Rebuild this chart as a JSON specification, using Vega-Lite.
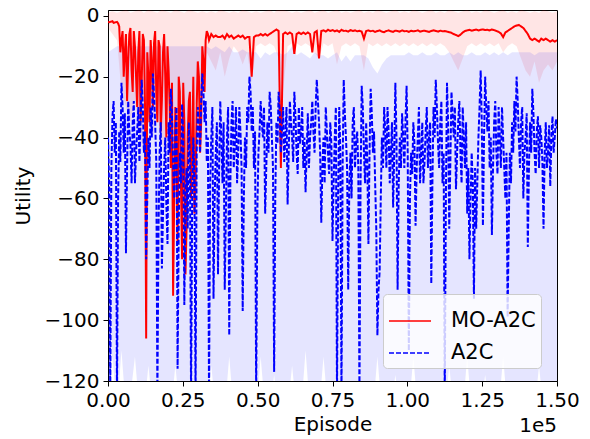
{
"$schema":"https://vega.github.io/schema/vega-lite/v6.json",
"width":449,"height":371,
"autosize":"none",
"padding":{"left":108,"top":10,"right":33,"bottom":58},
"background":"white",
"config":{
 "view":{"stroke":"black","strokeWidth":1},
 "font":"DejaVu Sans",
 "axis":{"grid":false,"domainColor":"black","tickColor":"black","labelColor":"black","titleColor":"black","labelFont":"DejaVu Sans","titleFont":"DejaVu Sans","labelFontSize":20,"titleFontSize":20,"titleFontWeight":"normal","tickSize":5,"labelFlush":false,"labelOverlap":false},
 "legend":{"orient":"none","legendX":275,"legendY":284,"padding":5,"fillColor":"rgba(255,255,255,0.8)","strokeColor":"#cccccc","cornerRadius":4,"labelFontSize":21,"labelFont":"DejaVu Sans","labelColor":"black","symbolType":"stroke","symbolSize":1764,"symbolStrokeWidth":1.5,"labelOffset":19,"rowPadding":-2}
},
"datasets":{
"a2c":[
{"e":0,"v":-40},{"e":375,"v":-55},{"e":750,"v":-125},{"e":1125,"v":-50},{"e":1500,"v":-33},{"e":1875,"v":-28},{"e":2250,"v":-45},{"e":2625,"v":-35},{"e":3000,"v":-125},{"e":3375,"v":-60},{"e":3750,"v":-38},{"e":4125,"v":-48},{"e":4500,"v":-22},{"e":4875,"v":-30},{"e":5250,"v":-45},{"e":5625,"v":-32},{"e":6000,"v":-78},{"e":6375,"v":-50},{"e":6750,"v":-28},{"e":7125,"v":-38},
{"e":7500,"v":-42},{"e":7875,"v":-55},{"e":8250,"v":-35},{"e":8625,"v":-28},{"e":9000,"v":-55},{"e":9375,"v":-45},{"e":9750,"v":-38},{"e":10125,"v":-30},{"e":10500,"v":-48},{"e":10875,"v":-35},{"e":11250,"v":-21},{"e":11625,"v":-30},{"e":12000,"v":-45},{"e":12375,"v":-38},{"e":12750,"v":-80},{"e":13125,"v":-60},{"e":13500,"v":-40},{"e":13875,"v":-50},{"e":14250,"v":-30},{"e":14625,"v":-40},
{"e":15000,"v":-19},{"e":15375,"v":-26},{"e":15750,"v":-35},{"e":16125,"v":-48},{"e":16500,"v":-125},{"e":16875,"v":-70},{"e":17250,"v":-45},{"e":17625,"v":-35},{"e":18000,"v":-83},{"e":18375,"v":-65},{"e":18750,"v":-50},{"e":19125,"v":-40},{"e":19500,"v":-62},{"e":19875,"v":-75},{"e":20250,"v":-35},{"e":20625,"v":-45},{"e":21000,"v":-24},{"e":21375,"v":-33},{"e":21750,"v":-48},{"e":22125,"v":-60},
{"e":22500,"v":-40},{"e":22875,"v":-30},{"e":23250,"v":-116},{"e":23625,"v":-70},{"e":24000,"v":-45},{"e":24375,"v":-55},{"e":24750,"v":-29},{"e":25125,"v":-40},{"e":25500,"v":-95},{"e":25875,"v":-60},{"e":26250,"v":-50},{"e":26625,"v":-70},{"e":27000,"v":-35},{"e":27375,"v":-48},{"e":27750,"v":-125},{"e":28125,"v":-60},{"e":28500,"v":-40},{"e":28875,"v":-55},{"e":29250,"v":-125},{"e":29625,"v":-45},
{"e":30000,"v":-30},{"e":30375,"v":-38},{"e":30750,"v":-45},{"e":31125,"v":-28},{"e":31500,"v":-19},{"e":31875,"v":-25},{"e":32250,"v":-35},{"e":32625,"v":-28},{"e":33000,"v":-48},{"e":33375,"v":-40},{"e":33750,"v":-125},{"e":34125,"v":-55},{"e":34500,"v":-40},{"e":34875,"v":-30},{"e":35250,"v":-93},{"e":35625,"v":-60},{"e":36000,"v":-45},{"e":36375,"v":-35},{"e":36750,"v":-85},{"e":37125,"v":-50},
{"e":37500,"v":-28},{"e":37875,"v":-40},{"e":38250,"v":-55},{"e":38625,"v":-35},{"e":39000,"v":-90},{"e":39375,"v":-65},{"e":39750,"v":-40},{"e":40125,"v":-30},{"e":40500,"v":-105},{"e":40875,"v":-55},{"e":41250,"v":-35},{"e":41625,"v":-28},{"e":42000,"v":-50},{"e":42375,"v":-42},{"e":42750,"v":-30},{"e":43125,"v":-55},{"e":43500,"v":-45},{"e":43875,"v":-30},{"e":44250,"v":-38},{"e":44625,"v":-50},
{"e":45000,"v":-97},{"e":45375,"v":-60},{"e":45750,"v":-40},{"e":46125,"v":-50},{"e":46500,"v":-30},{"e":46875,"v":-35},{"e":47250,"v":-20},{"e":47625,"v":-25},{"e":48000,"v":-38},{"e":48375,"v":-30},{"e":48750,"v":-50},{"e":49125,"v":-38},{"e":49500,"v":-125},{"e":49875,"v":-65},{"e":50250,"v":-45},{"e":50625,"v":-38},{"e":51000,"v":-28},{"e":51375,"v":-35},{"e":51750,"v":-40},{"e":52125,"v":-30},
{"e":52500,"v":-65},{"e":52875,"v":-50},{"e":53250,"v":-35},{"e":53625,"v":-45},{"e":54000,"v":-25},{"e":54375,"v":-30},{"e":54750,"v":-40},{"e":55125,"v":-50},{"e":55500,"v":-117},{"e":55875,"v":-60},{"e":56250,"v":-35},{"e":56625,"v":-42},{"e":57000,"v":-25},{"e":57375,"v":-32},{"e":57750,"v":-45},{"e":58125,"v":-38},{"e":58500,"v":-30},{"e":58875,"v":-48},{"e":59250,"v":-40},{"e":59625,"v":-30},
{"e":60000,"v":-62},{"e":60375,"v":-45},{"e":60750,"v":-28},{"e":61125,"v":-35},{"e":61500,"v":-40},{"e":61875,"v":-48},{"e":62250,"v":-25},{"e":62625,"v":-33},{"e":63000,"v":-45},{"e":63375,"v":-52},{"e":63750,"v":-30},{"e":64125,"v":-42},{"e":64500,"v":-38},{"e":64875,"v":-30},{"e":65250,"v":-50},{"e":65625,"v":-40},{"e":66000,"v":-58},{"e":66375,"v":-45},{"e":66750,"v":-32},{"e":67125,"v":-50},
{"e":67500,"v":-40},{"e":67875,"v":-35},{"e":68250,"v":-28},{"e":68625,"v":-38},{"e":69000,"v":-45},{"e":69375,"v":-30},{"e":69750,"v":-21},{"e":70125,"v":-28},{"e":70500,"v":-35},{"e":70875,"v":-45},{"e":71250,"v":-68},{"e":71625,"v":-50},{"e":72000,"v":-40},{"e":72375,"v":-55},{"e":72750,"v":-30},{"e":73125,"v":-38},{"e":73500,"v":-45},{"e":73875,"v":-52},{"e":74250,"v":-35},{"e":74625,"v":-42},
{"e":75000,"v":-74},{"e":75375,"v":-55},{"e":75750,"v":-40},{"e":76125,"v":-30},{"e":76500,"v":-125},{"e":76875,"v":-60},{"e":77250,"v":-30},{"e":77625,"v":-45},{"e":78000,"v":-125},{"e":78375,"v":-50},{"e":78750,"v":-21},{"e":79125,"v":-32},{"e":79500,"v":-40},{"e":79875,"v":-50},{"e":80250,"v":-90},{"e":80625,"v":-55},{"e":81000,"v":-45},{"e":81375,"v":-60},{"e":81750,"v":-35},{"e":82125,"v":-30},
{"e":82500,"v":-50},{"e":82875,"v":-42},{"e":83250,"v":-38},{"e":83625,"v":-50},{"e":84000,"v":-125},{"e":84375,"v":-55},{"e":84750,"v":-23},{"e":85125,"v":-30},{"e":85500,"v":-45},{"e":85875,"v":-55},{"e":86250,"v":-35},{"e":86625,"v":-48},{"e":87000,"v":-75},{"e":87375,"v":-45},{"e":87750,"v":-24},{"e":88125,"v":-32},{"e":88500,"v":-45},{"e":88875,"v":-38},{"e":89250,"v":-55},{"e":89625,"v":-70},
{"e":90000,"v":-105},{"e":90375,"v":-90},{"e":90750,"v":-84},{"e":91125,"v":-60},{"e":91500,"v":-40},{"e":91875,"v":-50},{"e":92250,"v":-30},{"e":92625,"v":-38},{"e":93000,"v":-50},{"e":93375,"v":-30},{"e":93750,"v":-38},{"e":94125,"v":-55},{"e":94500,"v":-45},{"e":94875,"v":-35},{"e":95250,"v":-63},{"e":95625,"v":-45},{"e":96000,"v":-22},{"e":96375,"v":-40},{"e":96750,"v":-90},{"e":97125,"v":-55},
{"e":97500,"v":-40},{"e":97875,"v":-50},{"e":98250,"v":-32},{"e":98625,"v":-40},{"e":99000,"v":-50},{"e":99375,"v":-35},{"e":99750,"v":-23},{"e":100125,"v":-45},{"e":100500,"v":-110},{"e":100875,"v":-60},{"e":101250,"v":-45},{"e":101625,"v":-52},{"e":102000,"v":-35},{"e":102375,"v":-42},{"e":102750,"v":-69},{"e":103125,"v":-50},{"e":103500,"v":-40},{"e":103875,"v":-30},{"e":104250,"v":-55},{"e":104625,"v":-45},
{"e":105000,"v":-35},{"e":105375,"v":-55},{"e":105750,"v":-48},{"e":106125,"v":-38},{"e":106500,"v":-30},{"e":106875,"v":-50},{"e":107250,"v":-40},{"e":107625,"v":-35},{"e":108000,"v":-88},{"e":108375,"v":-55},{"e":108750,"v":-30},{"e":109125,"v":-40},{"e":109500,"v":-21},{"e":109875,"v":-30},{"e":110250,"v":-42},{"e":110625,"v":-50},{"e":111000,"v":-35},{"e":111375,"v":-28},{"e":111750,"v":-55},{"e":112125,"v":-45},
{"e":112500,"v":-125},{"e":112875,"v":-60},{"e":113250,"v":-22},{"e":113625,"v":-35},{"e":114000,"v":-70},{"e":114375,"v":-48},{"e":114750,"v":-25},{"e":115125,"v":-32},{"e":115500,"v":-40},{"e":115875,"v":-30},{"e":116250,"v":-57},{"e":116625,"v":-45},{"e":117000,"v":-35},{"e":117375,"v":-28},{"e":117750,"v":-45},{"e":118125,"v":-55},{"e":118500,"v":-30},{"e":118875,"v":-40},{"e":119250,"v":-50},{"e":119625,"v":-35},
{"e":120000,"v":-65},{"e":120375,"v":-50},{"e":120750,"v":-80},{"e":121125,"v":-60},{"e":121500,"v":-45},{"e":121875,"v":-55},{"e":122250,"v":-93},{"e":122625,"v":-50},{"e":123000,"v":-70},{"e":123375,"v":-55},{"e":123750,"v":-40},{"e":124125,"v":-30},{"e":124500,"v":-18},{"e":124875,"v":-35},{"e":125250,"v":-69},{"e":125625,"v":-40},{"e":126000,"v":-20},{"e":126375,"v":-30},{"e":126750,"v":-38},{"e":127125,"v":-28},
{"e":127500,"v":-50},{"e":127875,"v":-40},{"e":128250,"v":-72},{"e":128625,"v":-50},{"e":129000,"v":-35},{"e":129375,"v":-28},{"e":129750,"v":-45},{"e":130125,"v":-52},{"e":130500,"v":-30},{"e":130875,"v":-40},{"e":131250,"v":-50},{"e":131625,"v":-30},{"e":132000,"v":-40},{"e":132375,"v":-50},{"e":132750,"v":-60},{"e":133125,"v":-45},{"e":133500,"v":-99},{"e":133875,"v":-70},{"e":134250,"v":-45},{"e":134625,"v":-55},
{"e":135000,"v":-35},{"e":135375,"v":-45},{"e":135750,"v":-28},{"e":136125,"v":-38},{"e":136500,"v":-20},{"e":136875,"v":-28},{"e":137250,"v":-40},{"e":137625,"v":-50},{"e":138000,"v":-35},{"e":138375,"v":-30},{"e":138750,"v":-60},{"e":139125,"v":-45},{"e":139500,"v":-40},{"e":139875,"v":-32},{"e":140250,"v":-76},{"e":140625,"v":-50},{"e":141000,"v":-35},{"e":141375,"v":-45},{"e":141750,"v":-24},{"e":142125,"v":-32},
{"e":142500,"v":-45},{"e":142875,"v":-52},{"e":143250,"v":-38},{"e":143625,"v":-33},{"e":144000,"v":-50},{"e":144375,"v":-36},{"e":144750,"v":-40},{"e":145125,"v":-48},{"e":145500,"v":-70},{"e":145875,"v":-45},{"e":146250,"v":-35},{"e":146625,"v":-50},{"e":147000,"v":-45},{"e":147375,"v":-36},{"e":147750,"v":-56},{"e":148125,"v":-40},{"e":148500,"v":-33},{"e":148875,"v":-45},{"e":149250,"v":-40},{"e":149625,"v":-34},
{"e":150000,"v":-37}
],
"mo":[
{"e":0,"v":-2},{"e":375,"v":-2.1},{"e":750,"v":-2},{"e":1125,"v":-1.9},{"e":1500,"v":-1.8},{"e":1875,"v":-2.3},{"e":2250,"v":-2.2},{"e":2625,"v":-2.1},{"e":3000,"v":-2},{"e":3375,"v":-2.5},{"e":3750,"v":-3.5},{"e":4125,"v":-12},{"e":4500,"v":-8},{"e":4875,"v":-5},{"e":5250,"v":-20},{"e":5625,"v":-12},{"e":6000,"v":-6},{"e":6375,"v":-28},{"e":6750,"v":-15},{"e":7125,"v":-6},
{"e":7500,"v":-4},{"e":7875,"v":-18},{"e":8250,"v":-25},{"e":8625,"v":-5},{"e":9000,"v":-10},{"e":9375,"v":-20},{"e":9750,"v":-30},{"e":10125,"v":-12},{"e":10500,"v":-5},{"e":10875,"v":-35},{"e":11250,"v":-22},{"e":11625,"v":-6},{"e":12000,"v":-8},{"e":12375,"v":-30},{"e":12750,"v":-106},{"e":13125,"v":-12},{"e":13500,"v":-20},{"e":13875,"v":-35},{"e":14250,"v":-8},{"e":14625,"v":-15},
{"e":15000,"v":-30},{"e":15375,"v":-9},{"e":15750,"v":-5},{"e":16125,"v":-25},{"e":16500,"v":-35},{"e":16875,"v":-8},{"e":17250,"v":-10},{"e":17625,"v":-38},{"e":18000,"v":-28},{"e":18375,"v":-12},{"e":18750,"v":-6},{"e":19125,"v":-20},{"e":19500,"v":-40},{"e":19875,"v":-10},{"e":20250,"v":-18},{"e":20625,"v":-30},{"e":21000,"v":-50},{"e":21375,"v":-22},{"e":21750,"v":-92},{"e":22125,"v":-60},
{"e":22500,"v":-30},{"e":22875,"v":-45},{"e":23250,"v":-75},{"e":23625,"v":-20},{"e":24000,"v":-25},{"e":24375,"v":-55},{"e":24750,"v":-80},{"e":25125,"v":-22},{"e":25500,"v":-35},{"e":25875,"v":-85},{"e":26250,"v":-70},{"e":26625,"v":-40},{"e":27000,"v":-28},{"e":27375,"v":-25},{"e":27750,"v":-60},{"e":28125,"v":-45},{"e":28500,"v":-20},{"e":28875,"v":-65},{"e":29250,"v":-55},{"e":29625,"v":-30},
{"e":30000,"v":-15},{"e":30375,"v":-20},{"e":30750,"v":-45},{"e":31125,"v":-35},{"e":31500,"v":-10},{"e":31875,"v":-15},{"e":32250,"v":-25},{"e":32625,"v":-8},{"e":33000,"v":-5},{"e":33375,"v":-6},
{"e":33750,"v":-8},{"e":34500,"v":-6},{"e":35250,"v":-7},{"e":36000,"v":-6.5},{"e":36750,"v":-7},{"e":37500,"v":-7},{"e":38250,"v":-6.5},{"e":39000,"v":-7.5},{"e":39750,"v":-6},{"e":40500,"v":-7},{"e":41250,"v":-6.5},{"e":42000,"v":-7.5},{"e":42750,"v":-7},{"e":43500,"v":-6.5},{"e":44250,"v":-7},
{"e":45000,"v":-6.5},{"e":45750,"v":-7.5},{"e":46500,"v":-7},{"e":47250,"v":-7},{"e":48000,"v":-20},{"e":48750,"v":-7},{"e":49500,"v":-6.5},{"e":50250,"v":-6.5},{"e":51000,"v":-6},{"e":51750,"v":-6.5},
{"e":52500,"v":-6},{"e":53250,"v":-6.5},{"e":54000,"v":-6},{"e":54750,"v":-5.5},{"e":55500,"v":-5},{"e":56250,"v":-4.5},{"e":57000,"v":-5},{"e":57750,"v":-50},{"e":58500,"v":-6},{"e":59250,"v":-5.5},
{"e":60000,"v":-6},{"e":60750,"v":-5.5},{"e":61500,"v":-6},{"e":62250,"v":-12.5},{"e":63000,"v":-6},{"e":63750,"v":-5.5},{"e":64500,"v":-6},{"e":65250,"v":-5.5},{"e":66000,"v":-6},{"e":66750,"v":-5.5},
{"e":67500,"v":-6},{"e":68250,"v":-12},{"e":69000,"v":-5.5},{"e":69750,"v":-5},{"e":70500,"v":-14},{"e":71250,"v":-5},{"e":72000,"v":-4.8},{"e":72750,"v":-5.2},{"e":73500,"v":-4.6},{"e":74250,"v":-5},
{"e":75000,"v":-4.7},{"e":75750,"v":-5.1},{"e":76500,"v":-4.8},{"e":77250,"v":-5.3},{"e":78000,"v":-4.6},{"e":78750,"v":-5},{"e":79500,"v":-4.9},{"e":80250,"v":-5.2},{"e":81000,"v":-4.7},{"e":81750,"v":-5},
{"e":82500,"v":-4.8},{"e":83250,"v":-5.1},{"e":84000,"v":-4.9},{"e":84750,"v":-5.2},{"e":85500,"v":-7.5},{"e":86250,"v":-5},{"e":87000,"v":-4.8},{"e":87750,"v":-5.1},{"e":88500,"v":-4.9},{"e":89250,"v":-5.3},
{"e":90000,"v":-5},{"e":90750,"v":-4.8},{"e":91500,"v":-5.2},{"e":92250,"v":-5.4},{"e":93000,"v":-5},{"e":93750,"v":-4.8},{"e":94500,"v":-5.1},{"e":95250,"v":-5.3},{"e":96000,"v":-4.9},{"e":96750,"v":-5},
{"e":97500,"v":-5.2},{"e":98250,"v":-4.8},{"e":99000,"v":-5.1},{"e":99750,"v":-5},{"e":100500,"v":-5.3},{"e":101250,"v":-4.9},{"e":102000,"v":-5.1},{"e":102750,"v":-5},{"e":103500,"v":-4.8},{"e":104250,"v":-5.2},
{"e":105000,"v":-5},{"e":105750,"v":-4.9},{"e":106500,"v":-5.1},{"e":107250,"v":-5.3},{"e":108000,"v":-5},{"e":108750,"v":-4.8},{"e":109500,"v":-5},{"e":110250,"v":-5.2},{"e":111000,"v":-4.9},{"e":111750,"v":-5.1},
{"e":112500,"v":-5},{"e":113250,"v":-5.2},{"e":114000,"v":-5.4},{"e":114750,"v":-5.6},{"e":115500,"v":-6},{"e":116250,"v":-6.3},{"e":117000,"v":-6.7},{"e":117750,"v":-6.2},{"e":118500,"v":-5.5},{"e":119250,"v":-5},
{"e":120000,"v":-4.8},{"e":120750,"v":-4.6},{"e":121500,"v":-4.9},{"e":122250,"v":-4.7},{"e":123000,"v":-4.5},{"e":123750,"v":-4.8},{"e":124500,"v":-4.6},{"e":125250,"v":-4.5},{"e":126000,"v":-4.7},{"e":126750,"v":-4.6},
{"e":127500,"v":-4.8},{"e":128250,"v":-4.5},{"e":129000,"v":-4.7},{"e":129750,"v":-5},{"e":130500,"v":-5.3},{"e":131250,"v":-5.8},{"e":132000,"v":-7},{"e":132750,"v":-5.5},{"e":133500,"v":-5},{"e":134250,"v":-4.5},
{"e":135000,"v":-4},{"e":135750,"v":-3.5},{"e":136500,"v":-3.2},{"e":137250,"v":-3},{"e":138000,"v":-3.5},{"e":138750,"v":-4},{"e":139500,"v":-5},{"e":140250,"v":-6},{"e":141000,"v":-7.5},{"e":141750,"v":-8},
{"e":142500,"v":-7.5},{"e":143250,"v":-8},{"e":144000,"v":-8.5},{"e":144750,"v":-7.5},{"e":145500,"v":-8},{"e":146250,"v":-7.5},{"e":147000,"v":-8},{"e":147750,"v":-8.5},{"e":148500,"v":-8},{"e":149250,"v":-8.5},
{"e":150000,"v":-8}
],
"bands":[
{"e":0,"rhi":1,"rlo":-4,"bhi":-12,"blo":-130},{"e":1500,"rhi":1.5,"rlo":-6,"bhi":-11,"blo":-112},{"e":3000,"rhi":1,"rlo":-8,"bhi":-10,"blo":-130},{"e":4500,"rhi":1.5,"rlo":-25,"bhi":-10,"blo":-110},{"e":6000,"rhi":2,"rlo":-30,"bhi":-10,"blo":-130},
{"e":7500,"rhi":1,"rlo":-35,"bhi":-10,"blo":-125},{"e":9000,"rhi":1.5,"rlo":-28,"bhi":-10,"blo":-112},{"e":10500,"rhi":2,"rlo":-40,"bhi":-10,"blo":-130},{"e":12000,"rhi":1,"rlo":-45,"bhi":-10,"blo":-130},{"e":13500,"rhi":2,"rlo":-35,"bhi":-10,"blo":-115},
{"e":15000,"rhi":1.5,"rlo":-40,"bhi":-10,"blo":-130},{"e":16500,"rhi":1,"rlo":-30,"bhi":-10,"blo":-130},{"e":18000,"rhi":2,"rlo":-42,"bhi":-10,"blo":-120},{"e":19500,"rhi":1.5,"rlo":-45,"bhi":-10,"blo":-130},{"e":21000,"rhi":1,"rlo":-40,"bhi":-10,"blo":-130},
{"e":22500,"rhi":2,"rlo":-35,"bhi":-10,"blo":-115},{"e":24000,"rhi":1.5,"rlo":-48,"bhi":-10,"blo":-130},{"e":25500,"rhi":1,"rlo":-45,"bhi":-10,"blo":-130},{"e":27000,"rhi":2,"rlo":-38,"bhi":-10,"blo":-130},{"e":28500,"rhi":1.5,"rlo":-30,"bhi":-10,"blo":-125},
{"e":30000,"rhi":1,"rlo":-28,"bhi":-10,"blo":-130},{"e":31500,"rhi":1.5,"rlo":-20,"bhi":-10,"blo":-130},{"e":33000,"rhi":1,"rlo":-12,"bhi":-10,"blo":-130},{"e":34500,"rhi":1.5,"rlo":-15,"bhi":-11,"blo":-115},{"e":36000,"rhi":1,"rlo":-18,"bhi":-10,"blo":-130},
{"e":37500,"rhi":2,"rlo":-12,"bhi":-11,"blo":-130},{"e":39000,"rhi":1.5,"rlo":-20,"bhi":-12,"blo":-130},{"e":40500,"rhi":1,"rlo":-14,"bhi":-10,"blo":-112},{"e":42000,"rhi":1.5,"rlo":-10,"bhi":-12,"blo":-130},{"e":43500,"rhi":1,"rlo":-12,"bhi":-12,"blo":-130},
{"e":45000,"rhi":2,"rlo":-16,"bhi":-11,"blo":-130},{"e":46500,"rhi":1.5,"rlo":-12,"bhi":-12,"blo":-120},{"e":48000,"rhi":1,"rlo":-22,"bhi":-12,"blo":-130},{"e":49500,"rhi":1.5,"rlo":-10,"bhi":-12,"blo":-130},{"e":51000,"rhi":1,"rlo":-9,"bhi":-14,"blo":-112},
{"e":52500,"rhi":1.5,"rlo":-10,"bhi":-12,"blo":-130},{"e":54000,"rhi":2,"rlo":-9,"bhi":-13,"blo":-130},{"e":55500,"rhi":1,"rlo":-10,"bhi":-12,"blo":-118},{"e":57000,"rhi":2.5,"rlo":-14,"bhi":-12,"blo":-130},{"e":58500,"rhi":2,"rlo":-25,"bhi":-13,"blo":-130},
{"e":60000,"rhi":1.5,"rlo":-10,"bhi":-12,"blo":-130},{"e":61500,"rhi":1,"rlo":-9,"bhi":-10,"blo":-115},{"e":63000,"rhi":1.5,"rlo":-9,"bhi":-13,"blo":-130},{"e":64500,"rhi":1,"rlo":-10,"bhi":-12,"blo":-130},{"e":66000,"rhi":1.5,"rlo":-9,"bhi":-13,"blo":-110},
{"e":67500,"rhi":2,"rlo":-10,"bhi":-14,"blo":-130},{"e":69000,"rhi":1,"rlo":-12,"bhi":-12,"blo":-130},{"e":70500,"rhi":1.5,"rlo":-14,"bhi":-13,"blo":-130},{"e":72000,"rhi":2,"rlo":-9,"bhi":-13,"blo":-112},{"e":73500,"rhi":1,"rlo":-10,"bhi":-14,"blo":-130},
{"e":75000,"rhi":1.5,"rlo":-9,"bhi":-13,"blo":-130},{"e":76500,"rhi":2,"rlo":-16,"bhi":-12,"blo":-130},{"e":78000,"rhi":1,"rlo":-10,"bhi":-15,"blo":-120},{"e":79500,"rhi":1.5,"rlo":-9,"bhi":-13,"blo":-130},{"e":81000,"rhi":1,"rlo":-10,"bhi":-15,"blo":-130},
{"e":82500,"rhi":1.5,"rlo":-9,"bhi":-13,"blo":-130},{"e":84000,"rhi":2,"rlo":-10,"bhi":-13,"blo":-115},{"e":85500,"rhi":1,"rlo":-18,"bhi":-13,"blo":-130},{"e":87000,"rhi":1.5,"rlo":-9,"bhi":-14,"blo":-130},{"e":88500,"rhi":1,"rlo":-10,"bhi":-17,"blo":-130},
{"e":90000,"rhi":2,"rlo":-9,"bhi":-19,"blo":-112},{"e":91500,"rhi":1.5,"rlo":-10,"bhi":-16,"blo":-130},{"e":93000,"rhi":1,"rlo":-9,"bhi":-14,"blo":-130},{"e":94500,"rhi":1.5,"rlo":-10,"bhi":-13,"blo":-130},{"e":96000,"rhi":2,"rlo":-9,"bhi":-13,"blo":-118},
{"e":97500,"rhi":1,"rlo":-10,"bhi":-13,"blo":-130},{"e":99000,"rhi":1.5,"rlo":-9,"bhi":-13,"blo":-130},{"e":100500,"rhi":1,"rlo":-10,"bhi":-12,"blo":-130},{"e":102000,"rhi":2,"rlo":-9,"bhi":-13,"blo":-112},{"e":103500,"rhi":1.5,"rlo":-10,"bhi":-13,"blo":-130},
{"e":105000,"rhi":1,"rlo":-9,"bhi":-12,"blo":-130},{"e":106500,"rhi":1.5,"rlo":-10,"bhi":-13,"blo":-130},{"e":108000,"rhi":2,"rlo":-9,"bhi":-13,"blo":-120},{"e":109500,"rhi":1,"rlo":-10,"bhi":-12,"blo":-130},{"e":111000,"rhi":1.5,"rlo":-9,"bhi":-13,"blo":-130},
{"e":112500,"rhi":1,"rlo":-10,"bhi":-13,"blo":-130},{"e":114000,"rhi":2,"rlo":-12,"bhi":-12,"blo":-115},{"e":115500,"rhi":1.5,"rlo":-15,"bhi":-13,"blo":-130},{"e":117000,"rhi":1,"rlo":-18,"bhi":-12,"blo":-130},{"e":118500,"rhi":1.5,"rlo":-14,"bhi":-13,"blo":-130},
{"e":120000,"rhi":2,"rlo":-10,"bhi":-13,"blo":-112},{"e":121500,"rhi":1,"rlo":-9,"bhi":-12,"blo":-130},{"e":123000,"rhi":1.5,"rlo":-10,"bhi":-13,"blo":-130},{"e":124500,"rhi":1,"rlo":-9,"bhi":-13,"blo":-130},{"e":126000,"rhi":2,"rlo":-10,"bhi":-12,"blo":-118},
{"e":127500,"rhi":1.5,"rlo":-9,"bhi":-13,"blo":-130},{"e":129000,"rhi":1,"rlo":-10,"bhi":-12,"blo":-130},{"e":130500,"rhi":1.5,"rlo":-9,"bhi":-13,"blo":-130},{"e":132000,"rhi":2,"rlo":-12,"bhi":-12,"blo":-112},{"e":133500,"rhi":1,"rlo":-10,"bhi":-13,"blo":-130},
{"e":135000,"rhi":1.5,"rlo":-9,"bhi":-12,"blo":-130},{"e":136500,"rhi":1,"rlo":-10,"bhi":-12,"blo":-130},{"e":138000,"rhi":2,"rlo":-14,"bhi":-12,"blo":-120},{"e":139500,"rhi":1.5,"rlo":-18,"bhi":-12,"blo":-130},{"e":141000,"rhi":1,"rlo":-20,"bhi":-12,"blo":-130},
{"e":142500,"rhi":1.5,"rlo":-15,"bhi":-13,"blo":-130},{"e":144000,"rhi":1,"rlo":-22,"bhi":-12,"blo":-115},{"e":145500,"rhi":2,"rlo":-18,"bhi":-12,"blo":-130},{"e":147000,"rhi":1.5,"rlo":-16,"bhi":-12,"blo":-130},{"e":148500,"rhi":1,"rlo":-18,"bhi":-12,"blo":-130},
{"e":150000,"rhi":1.5,"rlo":-15,"bhi":-12,"blo":-130}
]
},
"layer":[
{"data":{"name":"bands"},
 "mark":{"type":"area","clip":true,"color":"red","opacity":0.1},
 "encoding":{
  "x":{"field":"e","type":"quantitative","scale":{"domain":[0,150000],"nice":false,"zero":false},"title":"Episode","axis":{"values":[0,25000,50000,75000,100000,125000,150000],"labelExpr":"format(datum.value/100000,'.2f')","labelPadding":4,"titlePadding":4}},
  "y":{"field":"rhi","type":"quantitative","scale":{"domain":[-120,1.9],"nice":false,"zero":false},"title":"Utility","axis":{"values":[0,-20,-40,-60,-80,-100,-120],"labelPadding":4,"titlePadding":11}},
  "y2":{"field":"rlo"}}},
{"data":{"name":"bands"},
 "mark":{"type":"area","clip":true,"color":"blue","opacity":0.1},
 "encoding":{
  "x":{"field":"e","type":"quantitative","title":"Episode"},
  "y":{"field":"bhi","type":"quantitative","title":"Utility"},
  "y2":{"field":"blo"}}},
{"data":{"name":"mo"},
 "mark":{"type":"line","clip":true,"strokeWidth":2},
 "encoding":{
  "x":{"field":"e","type":"quantitative","title":"Episode"},
  "y":{"field":"v","type":"quantitative","title":"Utility"},
  "color":{"datum":"MO-A2C","type":"nominal","scale":{"domain":["MO-A2C","A2C"],"range":["#ff0000","#0000ff"]},"legend":{"title":null}},
  "strokeDash":{"datum":"MO-A2C","type":"nominal","scale":{"domain":["MO-A2C","A2C"],"range":[[1,0],[5,2]]},"legend":{"title":null}}}},
{"data":{"name":"a2c"},
 "mark":{"type":"line","clip":true,"strokeWidth":2},
 "encoding":{
  "x":{"field":"e","type":"quantitative","title":"Episode"},
  "y":{"field":"v","type":"quantitative","title":"Utility"},
  "color":{"datum":"A2C","type":"nominal"},
  "strokeDash":{"datum":"A2C","type":"nominal"}}},
{"data":{"values":[{"t":"1e5"}]},
 "mark":{"type":"text","align":"right","baseline":"alphabetic","dy":51,"fontSize":20,"font":"DejaVu Sans","color":"black"},
 "encoding":{
  "text":{"field":"t"},
  "x":{"datum":150000,"type":"quantitative"},
  "y":{"datum":-120,"type":"quantitative"}}}
]
}
